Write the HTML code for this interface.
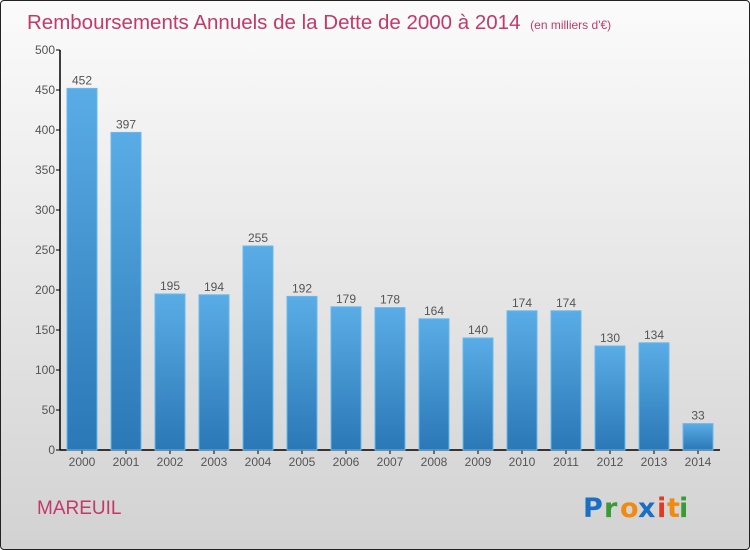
<!DOCTYPE html>
<html><head><meta charset="utf-8"><style>
html,body{margin:0;padding:0}
body{width:750px;height:550px;overflow:hidden;font-family:"Liberation Sans",sans-serif}
#frame{position:absolute;left:0;top:0;width:748px;height:548px;border:1px solid #222;border-radius:4px;background:linear-gradient(#fbfbfb,#d2d2d2)}
</style></head><body>
<div id="frame"></div>
<svg id="chart" width="750" height="550" style="position:absolute;left:0;top:0">
<defs><linearGradient id="bg" x1="0" y1="0" x2="0" y2="1"><stop offset="0" stop-color="#5aace6"/><stop offset="1" stop-color="#2a78b6"/></linearGradient></defs>
<text x="27" y="29" font-size="20.5" fill="#c2396a">Remboursements Annuels de la Dette de 2000 à 2014 <tspan font-size="12" dx="4">(en milliers d'€)</tspan></text>
<text x="37" y="514" font-size="19" fill="#c2396a">MAREUIL</text>
<g font-size="27" font-family="DejaVu Sans, sans-serif" font-weight="bold">
<text x="583" y="517" fill="#1a6fc4">P</text><text x="604" y="517" fill="#3a9a35">r</text><text x="620" y="517" fill="#f08a10">o</text><text x="638" y="517" fill="#1a6fc4">x</text><text x="657" y="517" fill="#e03a20">i</text><text x="667" y="517" fill="#f08a10">t</text><text x="679" y="517" fill="#3a9a35">i</text>
</g>
<g id="axes"></g><g id="bars"></g>
</svg>
<script>
const categories=["2000","2001","2002","2003","2004","2005","2006","2007","2008","2009","2010","2011","2012","2013","2014"];
const values=[452,397,195,194,255,192,179,178,164,140,174,174,130,134,33];
const yTicks=[0,50,100,150,200,250,300,350,400,450,500];
const NS="http://www.w3.org/2000/svg";
const x0=60,x1=720,yTop=50,yBot=450,yMax=500;
const step=44,bw=30;
function y(v){return yBot-(yBot-yTop)*v/yMax;}
function xc(i){return 82+i*step;}
function mk(t,a,p){const e=document.createElementNS(NS,t);for(const k in a)e.setAttribute(k,a[k]);p.appendChild(e);return e;}
const ax=document.getElementById('axes'),bs=document.getElementById('bars');
const yl=mk('line',{x1:x0,y1:yTop,x2:x0,y2:yBot,stroke:'#000','stroke-width':1.5},ax);


const xl=mk('line',{x1:x0,y1:yBot,x2:x1,y2:yBot,stroke:'#000','stroke-width':1.5},ax);


yTicks.forEach(v=>{
 mk('line',{x1:x0-4,y1:y(v),x2:x0,y2:y(v),stroke:'#000'},ax);
 const t=mk('text',{x:x0-5,y:y(v)+4,'text-anchor':'end','font-size':12,fill:'#555'},ax);
 t.textContent=v;
 
 
});
categories.forEach((c,i)=>{
 const v=values[i];
 const r=mk('rect',{x:xc(i)-bw/2,y:y(v),width:bw,height:yBot-y(v),fill:'url(#bg)',stroke:'#6ab8ee','stroke-width':1},bs);
 
 
 mk('line',{x1:xc(i),y1:yBot,x2:xc(i),y2:yBot+4,stroke:'#000'},ax);
 const t=mk('text',{x:xc(i),y:466,'text-anchor':'middle','font-size':12,fill:'#555'},ax);
 t.textContent=c;
 
 
 const l=mk('text',{x:xc(i),y:y(v)-4,'text-anchor':'middle','font-size':12,fill:'#555'},bs);
 l.textContent=v;
 
 
});
</script>
</body></html>
